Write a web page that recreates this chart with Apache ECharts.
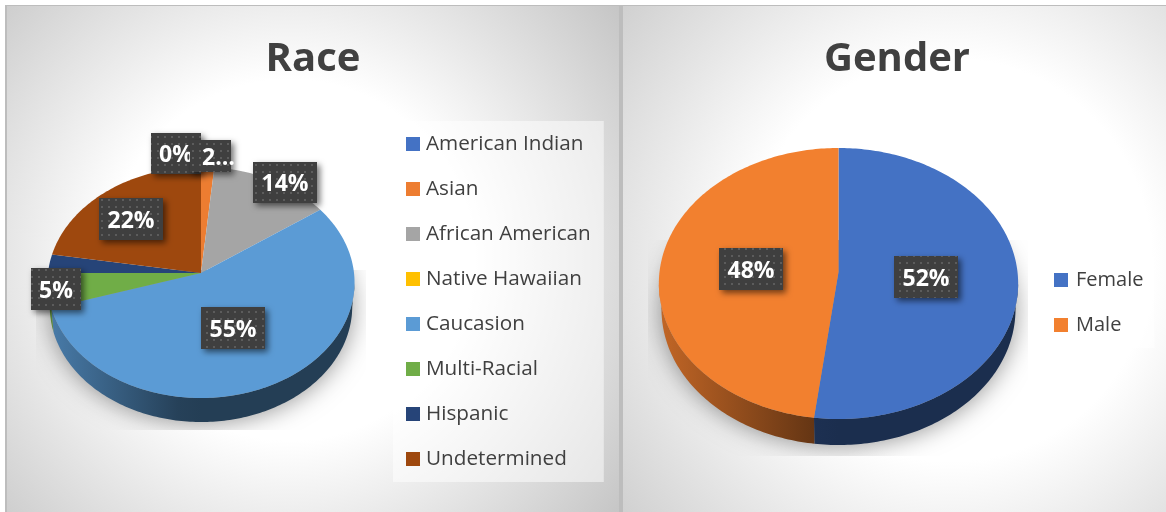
<!DOCTYPE html>
<html>
<head>
<meta charset="utf-8">
<title>Race and Gender</title>
<style>
  html, body { margin: 0; padding: 0; background: #fff; }
  #main { width: 1166px; height: 512px; }
</style>
<script src="https://cdn.jsdelivr.net/npm/echarts@6/dist/echarts.min.js"></script>
</head>
<body>
<div id="main"></div>
<script>
// 数据
var raceNames = ['American Indian', 'Asian', 'African American', 'Native Hawaiian', 'Caucasion', 'Multi-Racial', 'Hispanic', 'Undetermined'];
var raceValues = [0, 1.5, 13.7, 0, 55, 4.8, 2.6, 22.4];
var raceColors = ['#4472c4', '#ed7d31', '#a5a5a5', '#ffc000', '#5b9bd5', '#70ad47', '#264478', '#9e480e'];
var raceLabelTexts = ['0%', '2…', '14%', '55%', '5%', '22%'];

var genderNames = ['Female', 'Male'];
var genderValues = [52, 48];
var genderColors = ['#4472c4', '#f2802f'];
var genderLabelTexts = ['52%', '48%'];

// 布局：透视椭圆饼，apexY 是圆心投影，top/bottom 是上下边缘
var racePie = { cx: 201, rx: 153, apexY: 273, top: 167, bottom: 398, depth: 24, shadowClip: [36, 270, 330, 160] };
var genderPie = { cx: 838.5, rx: 179, apexY: 272, top: 148, bottom: 419, depth: 26, shadowClip: [648, 240, 380, 216] };
// label boxes: x, y, w, h
var raceLabelBoxes = [[151, 133, 50, 41], [190, 140, 41, 32], [253, 162, 64, 41], [201, 307, 64, 42], [31, 268, 50, 42], [99, 198, 64, 42]];
var genderLabelBoxes = [[894, 256, 64, 42], [719, 248, 64, 42]];
var textColor = '#404040';
var fontName = '"Open Sans", sans-serif';

// 标签底纹
var dots = document.createElement('canvas');
dots.width = 7;
dots.height = 7;
var dotsCtx = dots.getContext('2d');
dotsCtx.fillStyle = '#3f3f3f';
dotsCtx.fillRect(0, 0, 7, 7);
dotsCtx.fillStyle = '#5c5c5c';
dotsCtx.fillRect(3, 3, 2, 2);

// 圆周上的角度投影到屏幕，近大远小
function arcPoints(pie, t1, t2, dy, shrink) {
  var up = pie.apexY - pie.top, down = pie.bottom - pie.apexY;
  var k = (down - up) / (down + up);
  var a = up * (1 + k);
  var pts = [];
  var n = Math.max(2, Math.ceil(Math.abs(t2 - t1)));
  for (var i = 0; i <= n; i++) {
    var t = (t1 + (t2 - t1) * i / n) * Math.PI / 180;
    var d = 1 + k * Math.cos(t);
    pts.push([pie.cx + pie.rx * shrink * Math.sin(t) / d, pie.apexY + dy - a * Math.cos(t) / d]);
  }
  return pts;
}

function darken(color, k) {
  var c = echarts.color.parse(color);
  return 'rgb(' + Math.round(c[0] * k) + ',' + Math.round(c[1] * k) + ',' + Math.round(c[2] * k) + ')';
}

// 每个分类一个 series，图例才能直接用
function sliceSeries(pie, names, values, colors) {
  var total = values.reduce(function(a, b) { return a + b }, 0);
  var sum = 0;
  return names.map(function(name, i) {
    var row = [values[i], sum];
    sum += values[i];
    return {
      type: 'custom',
      name: name,
      coordinateSystem: 'none',
      silent: true,
      z: 4,
      itemStyle: { color: colors[i] },
      data: [row],
      renderItem: function(params, api) {
        var value = api.value(0);
        if (!value) return null;
        var t1 = api.value(1) / total * 360;
        var t2 = t1 + value / total * 360;
        var children = [];
        // 侧面只画下半圈
        var w1 = Math.max(t1, 95), w2 = Math.min(t2, 265);
        if (w2 > w1) {
          var edge = arcPoints(pie, w1, w2, 0, 1);
          var low = arcPoints(pie, w2, w1, pie.depth, 0.985);
          children.push({
            type: 'polygon',
            shape: { points: edge.concat(low) },
            style: {
              fill: new echarts.graphic.LinearGradient(pie.cx - pie.rx, 0, pie.cx, 0, [
                { offset: 0, color: darken(colors[i], 0.8) },
                { offset: 0.85, color: darken(colors[i], 0.42) },
                { offset: 1, color: darken(colors[i], 0.4) }
              ], true)
            }
          });
        }
        var top = arcPoints(pie, t1, t2, 0, 1);
        top.push([pie.cx, pie.apexY]);
        children.push({ type: 'polygon', shape: { points: top }, style: { fill: colors[i] } });
        return { type: 'group', children: children };
      }
    };
  });
}

// 地面阴影
function shadowSeries(pie) {
  return {
    type: 'custom',
    name: 'shadow',
    coordinateSystem: 'none',
    silent: true,
    z: 3,
    data: [[0]],
    renderItem: function() {
      var c = pie.shadowClip;
      return {
        type: 'group',
        clipPath: { type: 'rect', shape: { x: c[0], y: c[1], width: c[2], height: c[3] } },
        children: [{
          type: 'polygon',
          shape: { points: arcPoints(pie, 0, 360, pie.depth - 3, 0.985) },
          style: { fill: '#999', shadowColor: 'rgba(0,0,0,0.42)', shadowBlur: 24, shadowOffsetY: 4 }
        }]
      };
    }
  };
}

function labelSeries(texts, boxes) {
  return {
    type: 'custom',
    name: 'labels',
    coordinateSystem: 'none',
    silent: true,
    z: 6,
    data: texts.map(function(t, i) { return [i] }),
    renderItem: function(params, api) {
      var i = api.value(0);
      var b = boxes[i];
      return {
        type: 'group',
        children: [{
          type: 'rect',
          shape: { x: b[0], y: b[1], width: b[2], height: b[3] },
          style: { fill: { image: dots, repeat: 'repeat' }, shadowColor: 'rgba(0,0,0,0.55)', shadowBlur: 6, shadowOffsetX: 3, shadowOffsetY: 3 }
        }, {
          type: 'text',
          style: {
            x: b[0] + b[2] / 2 + (texts[i] === '2…' ? 8 : 0),
            y: b[1] + b[3] / 2 + 2,
            text: texts[i],
            align: 'center',
            verticalAlign: 'middle',
            fill: '#fff',
            font: '700 23px ' + fontName
          }
        }]
      };
    }
  };
}

function panel(x, width, cx, cy, r, edge) {
  return {
    type: 'rect',
    z: -10,
    shape: { x: x, y: 6, width: width, height: 506 },
    style: {
      fill: new echarts.graphic.RadialGradient(cx, cy, r, [
        { offset: 0, color: '#ffffff' },
        { offset: 0.42, color: '#ffffff' },
        { offset: 1, color: edge }
      ], true)
    }
  };
}

var myChart = echarts.init(document.getElementById('main'), null, { renderer: 'canvas' });

var option = {
  animation: false,
  backgroundColor: '#ffffff',
  textStyle: { fontFamily: fontName },
  graphic: {
    elements: [
      { type: 'rect', z: -11, shape: { x: 5, y: 5, width: 1161, height: 507 }, style: { fill: '#bdbdbd' } },
      panel(7, 612, 290, 260, 430, '#c2c2c2'),
      panel(623, 543, 950, 260, 480, '#c2c2c2')
    ]
  },
  title: [
    { text: 'Race', left: 308, top: 35, textAlign: 'center', textStyle: { fontFamily: fontName, fontSize: 40, fontWeight: 700, color: textColor } },
    { text: 'Gender', left: 892, top: 35, textAlign: 'center', textStyle: { fontFamily: fontName, fontSize: 40, fontWeight: 700, color: textColor } }
  ],
  legend: [{
    data: raceNames,
    orient: 'vertical',
    left: 393,
    top: 121,
    padding: [10, 13, 10, 13],
    itemWidth: 14,
    itemHeight: 14,
    itemGap: 19,
    icon: 'rect',
    selectedMode: false,
    backgroundColor: 'rgba(255,255,255,0.5)',
    textStyle: { fontFamily: fontName, fontSize: 20.7, lineHeight: 24, padding: [2, 0, 0, 1], color: textColor }
  }, {
    data: genderNames,
    orient: 'vertical',
    left: 1042,
    top: 257,
    padding: [10, 11, 10, 12],
    itemWidth: 14,
    itemHeight: 14,
    itemGap: 19,
    icon: 'rect',
    selectedMode: false,
    backgroundColor: 'rgba(255,255,255,0.5)',
    textStyle: { fontFamily: fontName, fontSize: 20, lineHeight: 24, padding: [2, 0, 0, 3], color: textColor }
  }],
  series: [shadowSeries(racePie), shadowSeries(genderPie)]
    .concat(sliceSeries(racePie, raceNames, raceValues, raceColors))
    .concat(sliceSeries(genderPie, genderNames, genderValues, genderColors))
    .concat([labelSeries(raceLabelTexts, raceLabelBoxes), labelSeries(genderLabelTexts, genderLabelBoxes)])
};

myChart.setOption(option);
</script>
</body>
</html>
